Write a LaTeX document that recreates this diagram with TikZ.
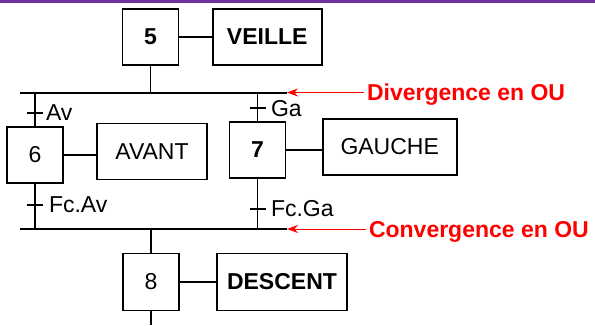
\documentclass[tikz,border=0pt]{standalone}
\usepackage{fontspec}
\setmainfont{Liberation Sans}
\usetikzlibrary{arrows.meta}
\definecolor{topbar}{RGB}{112,48,160}
\definecolor{note}{RGB}{255,0,0}
\begin{document}
\begin{tikzpicture}[x=1pt,y=-1pt,
  every node/.style={inner sep=0pt, outer sep=0pt, font=\fontsize{23}{26}\selectfont},
  stepbox/.style={draw, line width=1.8pt, minimum width=56pt, minimum height=56pt},
  actbox/.style={draw, line width=1.8pt, minimum height=56pt},
  link/.style={line width=1.8pt},
  bar/.style={line width=2pt},
  tick/.style={line width=1.8pt},
  lbl/.style={anchor=base west},
  notearrow/.style={note, line width=1pt, -{Stealth[length=11pt,width=8pt]}},
  notetext/.style={anchor=base west, text=note, font=\fontsize{23}{26}\selectfont\bfseries}]
\useasboundingbox (0,0) rectangle (595,325);
\fill[topbar] (0,0) rectangle (595,3);
% steps and actions
\node[stepbox, font=\fontsize{23}{26}\selectfont\bfseries] (s5) at (150.5,37) {5};
\node[actbox, minimum width=109pt, font=\fontsize{23}{26}\selectfont\bfseries] (a5) at (267.2,37) {VEILLE};
\node[stepbox] (s6) at (35,155) {6};
\node[actbox, minimum width=110pt] (a6) at (152,151.5) {AVANT};
\node[stepbox, font=\fontsize{23}{26}\selectfont\bfseries] (s7) at (257.5,150) {7};
\node[actbox, minimum width=134pt] (a7) at (389.7,147) {GAUCHE};
\node[stepbox, minimum height=57pt] (s8) at (151,282) {8};
\node[actbox, minimum width=130pt, minimum height=57pt, font=\fontsize{23}{26}\selectfont\bfseries] (a8) at (282,282) {DESCENT};
% step-action links
\draw[link] (s5.east) -- (s5.east -| a5.west);
\draw[link] (s6.east) -- (s6.east -| a6.west);
\draw[link] (s7.east) -- (s7.east -| a7.west);
\draw[link] (s8.east) -- (s8.east -| a8.west);
% divergence / convergence bars
\coordinate (dL) at (20,92.5);
\coordinate (dR) at (287,92.5);
\coordinate (cL) at (20,229);
\coordinate (cR) at (287,229);
\draw[bar] (dL) -- (dR);
\draw[bar] (cL) -- (cR);
% vertical links
\draw[link] (s5.south) -- (s5.south |- dL);
\draw[link] (s6.north |- dL) -- (s6.north);
\draw[link] (s7.north |- dL) -- (s7.north);
\draw[link] (s6.south) -- (s6.south |- cL);
\draw[link] (s7.south) -- (s7.south |- cL);
\draw[link] (s8.north |- cL) -- (s8.north);
\coordinate (end8) at (151,325);
\draw[link] (s8.south) -- (end8);
% transitions
\coordinate (t1) at (35,113);
\coordinate (t2) at (257.5,108);
\coordinate (t3) at (35,205);
\coordinate (t4) at (257.5,209);
\foreach \t in {t1,t2,t3,t4} {
  \draw[tick] ([xshift=-8pt]\t) -- ([xshift=8pt]\t);
}
\node[lbl] (l1) at (46,120) {Av};
\node[lbl] (l2) at (271,116) {Ga};
\node[lbl] (l3) at (49,212) {Fc.Av};
\node[lbl] (l4) at (271,216) {Fc.Ga};
% notes
\node[notetext] (n1) at (367,100.5) {Divergence en OU};
\node[notetext] (n2) at (369,237) {Convergence en OU};
\coordinate (n1s) at (364,92.5);
\coordinate (n2s) at (366,229);
\draw[notearrow] (n1s) -- (dR);
\draw[notearrow] (n2s) -- (cR);
\end{tikzpicture}
\end{document}
